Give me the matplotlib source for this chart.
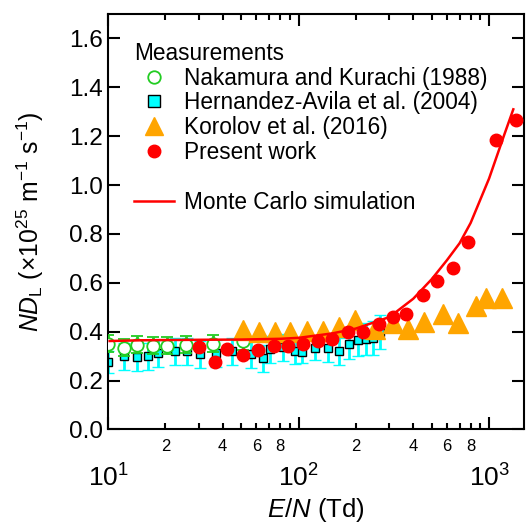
import numpy as np
import matplotlib
matplotlib.use('Agg')
import matplotlib.pyplot as plt
from matplotlib.lines import Line2D
from matplotlib.ticker import LogLocator, FuncFormatter, MultipleLocator

plt.rcParams['font.family'] = 'Liberation Sans'
plt.rcParams['mathtext.fontset'] = 'custom'
plt.rcParams['mathtext.rm'] = 'Liberation Sans'
plt.rcParams['mathtext.it'] = 'Liberation Sans:italic'

# Nakamura and Kurachi (1988)
nk_x = [10.0, 12.1, 14.2, 17.2, 20.4, 25.7, 35.6, 51.0]
nk_y = [0.351, 0.335, 0.347, 0.343, 0.343, 0.347, 0.351, 0.361]
nk_err = [0.035, 0.035, 0.035, 0.035, 0.035, 0.035, 0.035, 0.035]

# Hernandez-Avila et al. (2004)
ha_x = [10.0, 12.1, 14.2, 16.2, 18.3, 22.5, 26.0, 30.4, 36.9, 44.8, 56.3, 65.0,
        70.9, 82.8, 95.8, 104, 122, 143, 163, 184, 205, 226, 246, 268]
ha_y = [0.277, 0.300, 0.296, 0.300, 0.312, 0.320, 0.320, 0.308, 0.312, 0.320, 0.308, 0.292,
        0.329, 0.337, 0.320, 0.316, 0.333, 0.333, 0.320, 0.349, 0.366, 0.370, 0.374, 0.398]
ha_err = [0.045, 0.055, 0.055, 0.055, 0.055, 0.055, 0.055, 0.055, 0.055, 0.055, 0.055, 0.055,
          0.055, 0.055, 0.05, 0.045, 0.05, 0.056, 0.055, 0.06, 0.065, 0.065, 0.07, 0.07]

# Korolov et al. (2016)
ko_x = [51.1, 62.1, 75.5, 90.0, 110.8, 134.6, 163.8, 199, 253, 313, 375, 455, 573, 687, 855, 966, 1173]
ko_y = [0.409, 0.400, 0.400, 0.400, 0.404, 0.404, 0.421, 0.446, 0.413, 0.437, 0.413, 0.441,
        0.474, 0.437, 0.505, 0.540, 0.538]

# Present work
pw_x = [30.0, 36.4, 42.1, 51.1, 61.3, 74.3, 88.1, 105.6, 126.6, 150, 182, 218, 265, 313,
        367, 450, 533, 647, 776, 1088, 1386]
pw_y = [0.339, 0.277, 0.331, 0.306, 0.326, 0.343, 0.343, 0.351, 0.363, 0.372, 0.400, 0.400,
        0.433, 0.462, 0.474, 0.552, 0.606, 0.659, 0.766, 1.185, 1.267]

# Monte Carlo simulation
mc_x = [10.2, 15, 20, 30, 50, 80, 100, 150, 200, 300, 400, 500, 600, 700, 800, 1000, 1200, 1340]
mc_y = [0.362, 0.365, 0.366, 0.367, 0.368, 0.371, 0.375, 0.393, 0.413, 0.460, 0.535, 0.615,
        0.692, 0.762, 0.845, 1.027, 1.205, 1.310]

fig = plt.figure(figsize=(5.26, 5.23), dpi=100)
ax = fig.add_axes([0.2053, 0.1788, 0.7909, 0.7944])

cyan = '#00FFFF'
green = '#22CC22'
orange = '#FFA500'
red = '#FF0000'

ax.errorbar(ha_x, ha_y, yerr=ha_err, fmt='s', ms=5.5, mfc=cyan, mec='black', mew=1.0,
            ecolor=cyan, elinewidth=2, capsize=4.5, capthick=2, zorder=2)
ax.errorbar(nk_x, nk_y, yerr=nk_err, fmt='o', ms=9, mfc='white', mec=green, mew=1.3,
            ecolor=green, elinewidth=2, capsize=4.5, capthick=2, zorder=3)
ax.plot(ko_x, ko_y, '^', ms=14, color=orange, mec=orange, zorder=4)
ax.plot(pw_x, pw_y, 'o', ms=9, color=red, zorder=5)
ax.plot(mc_x, mc_y, '-', color=red, lw=1.8, zorder=6)

ax.set_xscale('log')
ax.set_xlim(10, 1525)
ax.set_ylim(0, 1.7)
ax.yaxis.set_major_locator(MultipleLocator(0.2))
ax.yaxis.set_major_formatter(FuncFormatter(lambda v, p: f'{v:.1f}'))

ax.xaxis.set_major_locator(LogLocator(base=10))
ax.xaxis.set_minor_locator(LogLocator(base=10, subs=np.arange(2, 10)))


def minor_fmt(v, pos):
    m = int(round(v / 10 ** np.floor(np.log10(v) + 1e-9)))
    return str(m) if m in (2, 4, 6, 8) else ''


ax.xaxis.set_minor_formatter(FuncFormatter(minor_fmt))

for s in ax.spines.values():
    s.set_linewidth(1.5)
ax.tick_params(which='both', direction='in', top=True, right=True, width=1.5)
ax.tick_params(which='major', length=8.5, labelsize=17.5)
ax.tick_params(axis='x', which='major', pad=25, labelsize=19)
ax.tick_params(axis='x', which='minor', length=4.5, pad=7, labelsize=12)

ax.set_xlabel(r'$E/N$ (Td)', fontsize=18.5, labelpad=3)
ax.set_ylabel(r'$ND_{\mathrm{L}}$ (×10$^{25}$ m$^{-1}$ s$^{-1}$)', fontsize=17.8)
ax.yaxis.set_label_coords(-0.15, 0.5)

handles = [
    Line2D([], [], ls='none', marker='o', ms=9, mfc='white', mec=green, mew=1.3),
    Line2D([], [], ls='none', marker='s', ms=9, mfc=cyan, mec='black', mew=1.0),
    Line2D([], [], ls='none', marker='^', ms=13, color=orange),
    Line2D([], [], ls='none', marker='o', ms=9, color=red),
    Line2D([], [], ls='none'),
    Line2D([], [], color=red, lw=1.8),
]
labels = ['Nakamura and Kurachi (1988)', 'Hernandez-Avila et al. (2004)',
          'Korolov et al. (2016)', 'Present work', '', 'Monte Carlo simulation']
leg = ax.legend(handles, labels, title='Measurements', loc='upper left',
                bbox_to_anchor=(0.04, 0.955), frameon=False, fontsize=16.3,
                title_fontsize=16.3, handlelength=1.77, handletextpad=0.44,
                labelspacing=0.08, borderaxespad=0)
leg._legend_box.align = 'left'

fig.savefig('out.png', dpi=100)
